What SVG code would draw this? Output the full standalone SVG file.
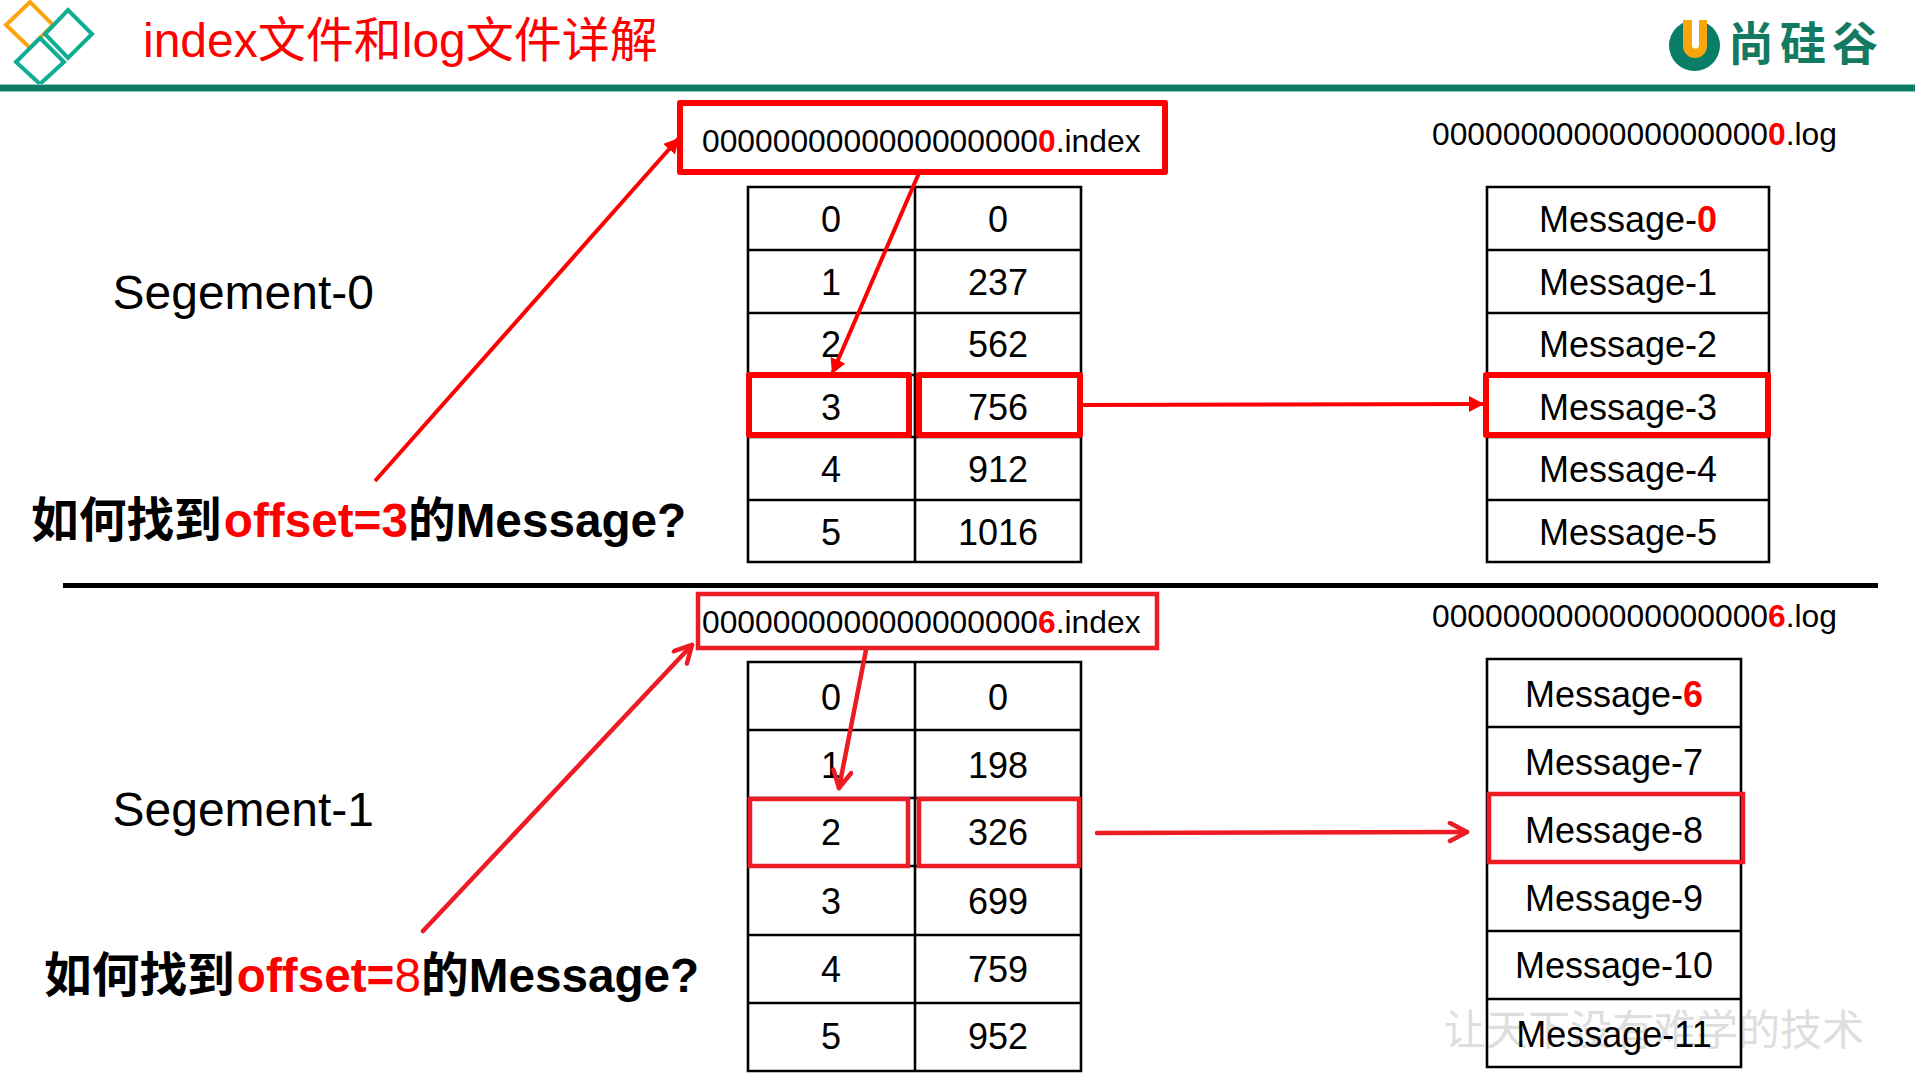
<svg xmlns="http://www.w3.org/2000/svg" width="1915" height="1080" viewBox="0 0 1915 1080">
<style>
text{font-family:"Liberation Sans","Noto Sans CJK SC",sans-serif;fill:#000}
.cell{fill:none;stroke:#000;stroke-width:2.6}
.t{font-size:36px;text-anchor:middle}
.f{font-size:31.8px}
.seg{font-size:48px}
.q{font-size:47.7px;font-weight:700}
.r{fill:#f00}
.b{font-weight:700}
.n{font-weight:400}
.hl{fill:none;stroke:#f00;stroke-width:6;stroke-linejoin:round}
.hl2{fill:none;stroke:#ed1c24;stroke-width:4.5}
.a{fill:none;stroke:#f00;stroke-width:4}
.a2{fill:none;stroke:#ed1c24;stroke-width:4.5;stroke-linecap:round;stroke-linejoin:round}
.dm{fill:#fff;stroke:#0fae94;stroke-width:4}
</style>
<defs>
<marker id="head" markerUnits="userSpaceOnUse" markerWidth="20" markerHeight="20" refX="15" refY="8" orient="auto"><path d="M0 0L15 8L0 16Z" fill="#f00"/></marker>
<marker id="open" markerUnits="userSpaceOnUse" markerWidth="26" markerHeight="26" refX="20" refY="11" orient="auto"><path d="M3 2L20 11L3 20" fill="none" stroke="#ed1c24" stroke-width="4.5" stroke-linecap="round" stroke-linejoin="round"/></marker>
</defs>
<rect width="1915" height="1080" fill="#fff"/>

<g id="header">
<path d="M30 2L53 25L30 48L6 25Z" fill="none" stroke="#f9a50d" stroke-width="4"/>
<path class="dm" d="M68 10L92 34L68 58L45 34Z"/>
<path class="dm" d="M40 38L64 62L40 84L16 62Z"/>
<rect x="0" y="84" width="1915" height="8" fill="#8cc6b8"/>
<rect x="0" y="85" width="1915" height="6" fill="#0a7d67"/>
<text id="title" x="143" y="57" font-size="48" style="fill:#f00">index文件和log文件详解</text>
</g>
<g id="logo">
<circle cx="1694.5" cy="45.5" r="25.5" fill="#0a7d67"/>
<path d="M1683 20H1707V46A12 12 0 0 1 1683 46Z" fill="#f9a50d"/>
<path d="M1692 19H1699V45A3.5 3.5 0 0 1 1692 45Z" fill="#fff"/>
<text x="1728" y="60" font-size="46" font-weight="700" letter-spacing="6" style="fill:#137a62">尚硅谷</text>
</g>
<text id="watermark" x="1444" y="1045" font-size="42" style="fill:#dedede">让天下没有难学的技术</text>
<rect id="divider" x="63" y="583" width="1815" height="5" fill="#000"/>

<g id="segment-0-label"><text class="seg" x="112.5" y="309">Segement-0</text></g>
<g id="segment-1-label"><text class="seg" x="112.5" y="826">Segement-1</text></g>
<g id="question-0"><text class="q" x="31" y="537">如何找到<tspan class="r" dx="2">offset=3</tspan>的Message?</text></g>
<g id="question-1"><text class="q" x="44" y="992">如何找到<tspan class="r" dx="2">offset=<tspan class="n">8</tspan></tspan>的Message?</text></g>

<g id="index-file-0">
<rect class="hl" x="680" y="103" width="485" height="69"/>
<text class="f" x="702" y="152">0000000000000000000<tspan class="b r">0</tspan>.index</text>
</g>
<g id="log-file-0"><text class="f" x="1432" y="145">0000000000000000000<tspan class="b r">0</tspan>.log</text></g>
<g id="index-file-1">
<rect class="hl2" x="698" y="594" width="459" height="54"/>
<text class="f" x="702" y="633">0000000000000000000<tspan class="b r">6</tspan>.index</text>
</g>
<g id="log-file-1"><text class="f" x="1432" y="627">0000000000000000000<tspan class="b r">6</tspan>.log</text></g>

<g id="index-table-0">
<path class="cell" d="M748 187H1081V562H748ZM915 187V562M748 250H1081M748 313H1081M748 375H1081M748 437H1081M748 500H1081"/>
<text class="t" x="831" y="232">0</text><text class="t" x="998" y="232">0</text>
<text class="t" x="831" y="295">1</text><text class="t" x="998" y="295">237</text>
<text class="t" x="831" y="357">2</text><text class="t" x="998" y="357">562</text>
<text class="t" x="831" y="420">3</text><text class="t" x="998" y="420">756</text>
<text class="t" x="831" y="482">4</text><text class="t" x="998" y="482">912</text>
<text class="t" x="831" y="545">5</text><text class="t" x="998" y="545">1016</text>
</g>
<g id="log-table-0">
<path class="cell" d="M1487 187H1769V562H1487ZM1487 250H1769M1487 313H1769M1487 375H1769M1487 437H1769M1487 500H1769"/>
<text class="t" x="1628" y="232">Message-<tspan class="b r">0</tspan></text>
<text class="t" x="1628" y="295">Message-1</text>
<text class="t" x="1628" y="357">Message-2</text>
<text class="t" x="1628" y="420">Message-3</text>
<text class="t" x="1628" y="482">Message-4</text>
<text class="t" x="1628" y="545">Message-5</text>
</g>
<g id="index-table-1">
<path class="cell" d="M748 662H1081V1071H748ZM915 662V1071M748 730H1081M748 798H1081M748 866H1081M748 935H1081M748 1003H1081"/>
<text class="t" x="831" y="710">0</text><text class="t" x="998" y="710">0</text>
<text class="t" x="831" y="778">1</text><text class="t" x="998" y="778">198</text>
<text class="t" x="831" y="845">2</text><text class="t" x="998" y="845">326</text>
<text class="t" x="831" y="914">3</text><text class="t" x="998" y="914">699</text>
<text class="t" x="831" y="982">4</text><text class="t" x="998" y="982">759</text>
<text class="t" x="831" y="1049">5</text><text class="t" x="998" y="1049">952</text>
</g>
<g id="log-table-1">
<path class="cell" d="M1487 659H1741V1067H1487ZM1487 727H1741M1487 794H1741M1487 862H1741M1487 931H1741M1487 999H1741"/>
<text class="t" x="1614" y="707">Message-<tspan class="b r">6</tspan></text>
<text class="t" x="1614" y="775">Message-7</text>
<text class="t" x="1614" y="843">Message-8</text>
<text class="t" x="1614" y="911">Message-9</text>
<text class="t" x="1614" y="978">Message-10</text>
<text class="t" x="1614" y="1047">Message-11</text>
</g>

<g id="highlights">
<rect class="hl" x="749" y="375" width="160" height="60"/>
<rect class="hl" x="919" y="375" width="161" height="60"/>
<rect class="hl" x="1486" y="375" width="282" height="60"/>
<rect class="hl2" x="750" y="799" width="158" height="67"/>
<rect class="hl2" x="919" y="799" width="160" height="67"/>
<rect class="hl2" x="1489" y="794" width="254" height="68"/>
</g>

<g id="connectors">
<path class="a" marker-end="url(#head)" d="M375 481L679 138"/>
<path class="a" marker-end="url(#head)" d="M919 173L832 374"/>
<path class="a" marker-end="url(#head)" d="M1081 405L1484 404"/>
<path class="a2" marker-end="url(#open)" d="M423 931L692 645"/>
<path class="a2" marker-end="url(#open)" d="M866 650L839 788"/>
<path class="a2" marker-end="url(#open)" d="M1097 833L1467 832"/>
</g>
</svg>
